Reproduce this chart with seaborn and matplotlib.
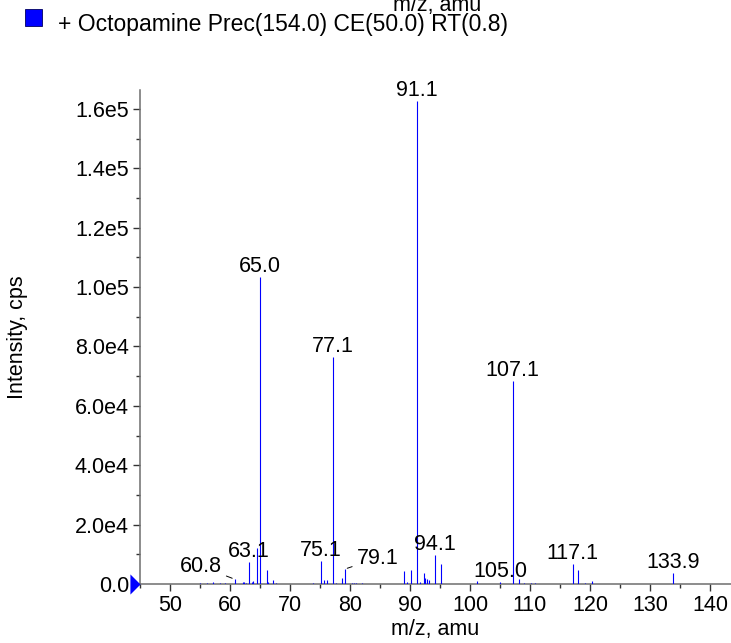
import numpy as np
import pandas as pd
import matplotlib
matplotlib.use("Agg")
import matplotlib.pyplot as plt
import seaborn as sns
from matplotlib.path import Path
from matplotlib.patches import Rectangle
from matplotlib.ticker import FixedLocator, MultipleLocator

# ---------------- data ----------------
peak_mz = [55.0, 56.1, 57.2, 58.3, 59.2, 60.8, 62.1, 62.3, 62.6, 63.1, 63.6, 63.9,
           64.5, 65.0, 66.1, 66.4, 67.1, 67.6, 73.9, 75.1, 75.7, 76.1, 77.1, 77.6,
           78.6, 79.1, 80.4, 80.7, 81.0, 82.0, 89.0, 89.5, 90.2, 91.1, 91.6, 92.3,
           92.5, 92.9, 93.2, 94.1, 95.1, 101.2, 105.0, 107.1, 108.2, 109.0, 110.1,
           110.8, 117.1, 118.0, 119.1, 120.3, 133.9]
peak_intensity = [250, 200, 600, 500, 450, 1600, 700, 700, 500, 7500, 800, 900,
                  12200, 103400, 4700, 600, 1200, 500, 400, 7700, 1500, 1300, 76550, 300,
                  2100, 5000, 400, 500, 400, 250, 4500, 600, 4800, 162800, 800, 3700,
                  2000, 1700, 1500, 9700, 6700, 900, 800, 68400, 1700, 300, 400,
                  500, 6600, 4800, 400, 900, 3700]

labelled_mz = [60.8, 63.1, 65.0, 75.1, 77.1, 79.1, 91.1, 94.1, 105.0, 107.1, 117.1, 133.9]

x_ticks = [50, 60, 70, 80, 90, 100, 110, 120, 130, 140]
y_ticks = [0, 20000, 40000, 60000, 80000, 100000, 120000, 140000, 160000]
y_tick_labels = ["0.0", "2.0e4", "4.0e4", "6.0e4", "8.0e4", "1.0e5", "1.2e5", "1.4e5", "1.6e5"]

legend_label = "+ Octopamine Prec(154.0) CE(50.0) RT(0.8)"
x_label = "m/z, amu"
y_label = "Intensity, cps"

df = pd.DataFrame({"mz": peak_mz, "intensity": peak_intensity})

# ---------------- style ----------------
sns.set_theme(style="ticks")
plt.rcParams["font.family"] = ["Liberation Sans", "DejaVu Sans"]
FS = 15.5
FS_LEG = 16.5
BLUE = "#0000FF"
SPINE = "#6e6e6e"

W, H = 731, 643
fig = plt.figure(figsize=(W / 100, H / 100), dpi=100)
ax_left, ax_right, ax_top, ax_bottom = 140, 731, 90, 584
ax = fig.add_axes([ax_left / W, 1 - ax_bottom / H, (ax_right - ax_left) / W, (ax_bottom - ax_top) / H])

xlim = (45, 45 + (ax_right - ax_left) / 6.0)
ylim = (0, (ax_bottom - ax_top) * 336.8)
ax.set_xlim(*xlim)
ax.set_ylim(*ylim)

# peaks
ax.vlines(df["mz"], 0, df["intensity"], color=BLUE, linewidth=0.8, zorder=3)

# labels
offsets = {60.8: (-34, 13), 79.1: (33, 11)}
for m in labelled_mz:
    inten = df.loc[(df["mz"] - m).abs().idxmin(), "intensity"]
    txt = f"{m:.1f}"
    if m in offsets:
        dx, dy = offsets[m]
        ax.annotate(txt, xy=(m, inten), xytext=(dx, dy), textcoords="offset pixels",
                    ha="center", va="center", fontsize=FS, color="black",
                    arrowprops=dict(arrowstyle="-", color="black", lw=0.7,
                                    shrinkA=1, shrinkB=2), zorder=4)
    else:
        ax.annotate(txt, xy=(m, inten), xytext=(0, 5), textcoords="offset pixels",
                    ha="center", va="baseline", fontsize=FS, color="black", zorder=4)

# axes styling
sns.despine(ax=ax, top=True, right=True)
for s in ["left", "bottom"]:
    ax.spines[s].set_color(SPINE)
    ax.spines[s].set_linewidth(1.1)
ax.xaxis.set_major_locator(FixedLocator(x_ticks))
ax.xaxis.set_minor_locator(MultipleLocator(5))
ax.yaxis.set_major_locator(FixedLocator(y_ticks))
ax.yaxis.set_minor_locator(MultipleLocator(10000))
ax.set_xticklabels([str(t) for t in x_ticks])
ax.set_yticklabels(y_tick_labels)
ax.tick_params(axis="both", which="major", direction="out", length=5, width=1.0,
               color="#333333", labelsize=FS, labelcolor="black", pad=3)
ax.tick_params(axis="both", which="minor", direction="out", length=3, width=1.0,
               color="#333333")
ax.grid(False)
ax.set_facecolor("white")

ax.set_xlabel(x_label, fontsize=FS, color="black")
ax.set_ylabel(y_label, fontsize=FS, color="black")
ax.xaxis.set_label_coords(0.5, -(619 - ax_bottom) / (ax_bottom - ax_top))
ax.yaxis.set_label_coords(-(ax_left - 28) / (ax_right - ax_left), 0.5)

# zero marker triangle at left
tri = Path([(-1, 1), (0, 0), (-1, -1), (-1, 1)],
           [Path.MOVETO, Path.LINETO, Path.LINETO, Path.CLOSEPOLY])
ax.plot([xlim[0]], [0], marker=tri, markersize=14.5, color=BLUE,
        markeredgewidth=0, clip_on=False, zorder=5)

# legend (manual)
fig.add_artist(Rectangle((25 / W, 1 - 26 / H), 17 / W, 17 / H, transform=fig.transFigure,
                         facecolor=BLUE, edgecolor="#000060", linewidth=0.6))
fig.text(58 / W, 1 - 24 / H, legend_label, fontsize=FS_LEG, ha="left", va="center", color="black")

# residual clipped header label at very top
fig.text(437 / W, 1 - 11 / H, x_label, fontsize=FS, ha="center", va="baseline", color="black")

fig.savefig("out.png", dpi=100, facecolor="white")
